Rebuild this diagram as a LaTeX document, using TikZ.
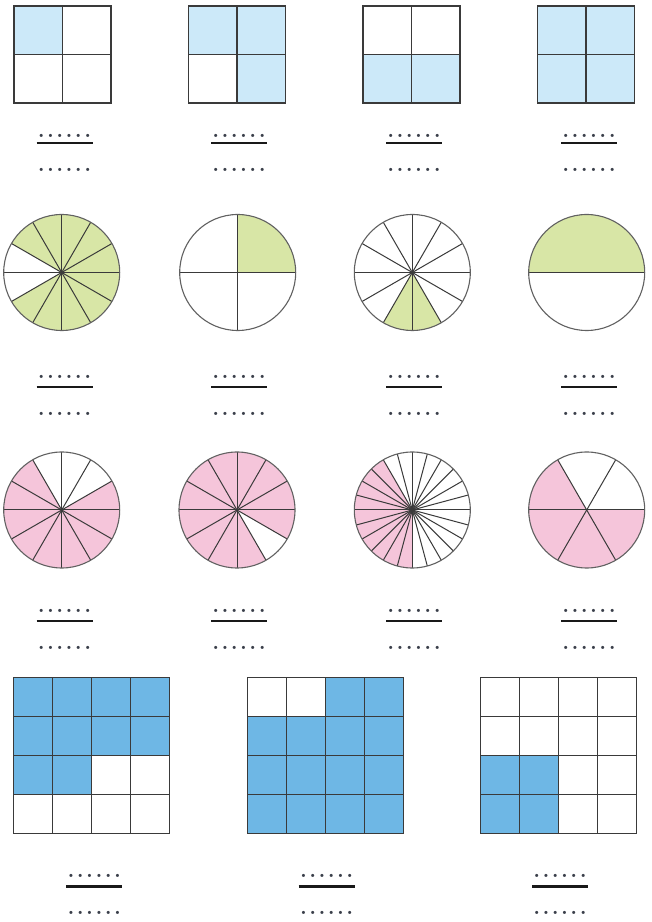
\documentclass[tikz,border=0pt]{standalone}
\definecolor{lblue}{HTML}{CCE9F9}
\definecolor{lgreen}{HTML}{D8E6A6}
\definecolor{lpink}{HTML}{F5C5DA}
\definecolor{mblue}{HTML}{6EB7E5}
\definecolor{edgec}{HTML}{3A3A3A}
\definecolor{dotc}{HTML}{3A3F4A}
\tikzset{
  cellline/.style={draw=edgec, line width=1.3pt},
  spoke/.style={draw=edgec, line width=1pt},
  rim/.style={draw=edgec!80, line width=1.1pt},
  fracline/.style={draw=black!90, line width=2.8pt},
  dotrow/.style={inner sep=0pt, text=dotc, font=\fontsize{22}{22}\selectfont\bfseries},
}
\newcommand\sixdots{\makebox[9.3pt]{.}\makebox[9.3pt]{.}\makebox[9.3pt]{.}\makebox[9.3pt]{.}\makebox[9.3pt]{.}\makebox[9.3pt]{.}}
\newcommand\fracmark[4]{%
  \node[dotrow] (#1t) at (#2,#3+#4) {\sixdots};
  \coordinate (#1l) at (#2-28,#3);
  \coordinate (#1r) at (#2+28,#3);
  \draw[fracline] (#1l) -- (#1r);
  \node[dotrow] (#1b) at (#2,#3-27) {\sixdots};
}
% pie: name, x, y, fill colour, start, end, spoke step
\newcommand\pie[7]{%
  \coordinate (#1) at (#2,#3);
  \fill[#4] (#1) -- ++(#5:58pt) arc[start angle=#5, end angle=#6, radius=58pt] -- cycle;
  \foreach \a in {0,#7,...,359} {\draw[spoke] (#1) -- ++(\a:58pt);}
  \draw[rim] (#1) circle[radius=58pt];
}
\begin{document}
\begin{tikzpicture}[x=1pt,y=1pt]
\useasboundingbox[fill=white] (0,0) rectangle (652,922);

% ---------- row 1: 2x2 squares ----------
\fill[lblue] (14,867.5) rectangle ++(48.5,48.5);
\fill[lblue] (188.5,867.5) rectangle ++(97,48.5);
\fill[lblue] (237,819) rectangle ++(48.5,48.5);
\fill[lblue] (363,819) rectangle ++(97,48.5);
\fill[lblue] (537.5,819) rectangle ++(97,97);
\foreach \x in {14,188.5,363,537.5} {
  \draw[cellline] (\x,819) rectangle ++(97,97);
  \draw[cellline] (\x+48.5,819) -- ++(0,97);
  \draw[cellline] (\x,867.5) -- ++(97,0);
}
\fracmark{fa}{64.5}{779}{7.5}
\fracmark{fb}{239}{779}{7.5}
\fracmark{fc}{414}{779}{7.5}
\fracmark{fd}{589}{779}{7.5}

% ---------- row 2: green circles ----------
\pie{ca}{61.7}{649.5}{lgreen}{210}{510}{30}
\pie{cb}{237.7}{649.5}{lgreen}{0}{90}{90}
\pie{cc}{412.3}{649.5}{lgreen}{240}{300}{30}
\pie{cd}{586.7}{649.5}{lgreen}{0}{180}{180}
\fracmark{fe}{64.5}{535}{10}
\fracmark{ff}{239}{535}{10}
\fracmark{fg}{414}{535}{10}
\fracmark{fh}{589}{535}{10}

% ---------- row 3: pink circles ----------
\pie{ce}{61.7}{412}{lpink}{120}{390}{30}
\pie{cf}{237}{412}{lpink}{330}{660}{30}
\pie{cg}{412.3}{412}{lpink}{120}{270}{15}
\pie{ch}{586.7}{412}{lpink}{120}{360}{60}
\fracmark{fi}{64.5}{301}{10}
\fracmark{fj}{239}{301}{10}
\fracmark{fk}{414}{301}{10}
\fracmark{fl}{589}{301}{10}

% ---------- row 4: 4x4 grids ----------
\fill[mblue] (13.7,166.3) rectangle ++(156,78);
\fill[mblue] (13.7,127.3) rectangle ++(78,39);
\fill[mblue] (325.3,205.3) rectangle ++(78,39);
\fill[mblue] (247.3,88.3) rectangle ++(156,117);
\fill[mblue] (480.3,88.3) rectangle ++(78,78);
\foreach \x in {13.7,247.3,480.3} {
  \draw[cellline] (\x,88.3) rectangle ++(156,156);
  \foreach \i in {1,2,3} {
    \draw[cellline] (\x+\i*39,88.3) -- ++(0,156);
    \draw[cellline] (\x,88.3+\i*39) -- ++(156,0);
  }
}
\fracmark{fm}{94.3}{35.7}{10}
\fracmark{fn}{326.7}{35.7}{10}
\fracmark{fo}{560}{35.7}{10}
\end{tikzpicture}
\end{document}
